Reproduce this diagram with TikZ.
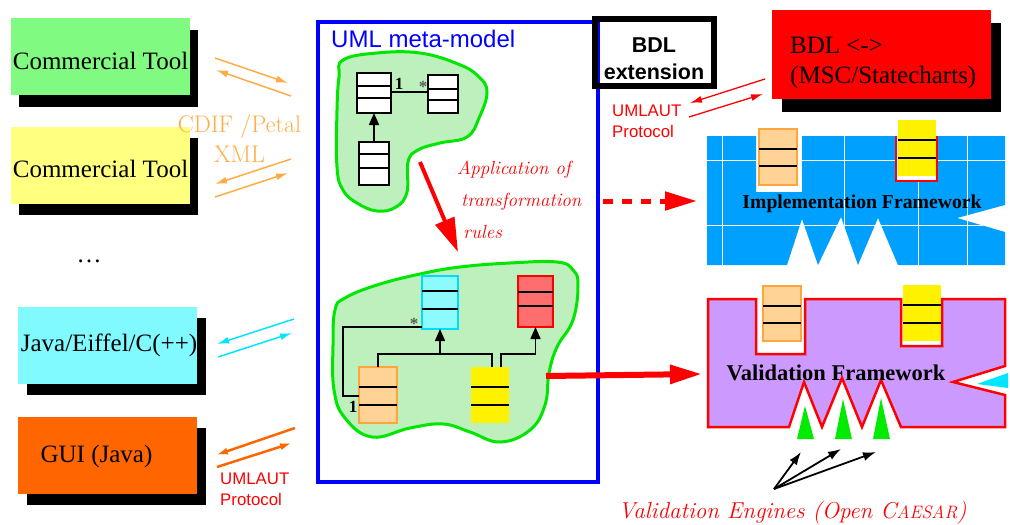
\documentclass[tikz,border=0pt]{standalone}
\usepackage{fontspec}
\newfontfamily\tms{Liberation Serif}
\newfontfamily\hv{Liberation Sans}
\usetikzlibrary{arrows.meta}
\definecolor{cgreen}{RGB}{128,250,128}
\definecolor{cyellow}{RGB}{255,255,128}
\definecolor{ccyan}{RGB}{128,250,255}
\definecolor{corange}{RGB}{255,102,0}
\definecolor{lorange}{RGB}{255,172,70}
\definecolor{blobfill}{RGB}{190,240,190}
\definecolor{blobline}{RGB}{0,230,0}
\definecolor{implblue}{RGB}{0,160,255}
\definecolor{valpurple}{RGB}{204,153,255}
\definecolor{clsorange}{RGB}{255,210,150}
\definecolor{clsorangeline}{RGB}{255,165,60}
\definecolor{clscyan}{RGB}{140,250,255}
\definecolor{clscyanline}{RGB}{0,220,255}
\definecolor{clsred}{RGB}{255,110,110}
\definecolor{arrcyan}{RGB}{0,230,255}
\definecolor{engreen}{RGB}{0,235,0}
\definecolor{starGray}{RGB}{90,90,90}
\tikzset{
  toolbox/.style={draw=none, minimum width=179pt, minimum height=77pt, inner sep=0pt, outer sep=0pt},
  shadowbox/.style={fill=black, draw=none, minimum width=179pt, minimum height=77pt, inner sep=0pt, outer sep=0pt},
  tooltext/.style={font=\tms\fontsize{25}{30}\selectfont, inner sep=0pt},
  cls/.style 2 args={draw=black, line width=1.6pt, fill=white, inner sep=0pt, outer sep=0pt, minimum width=#1, minimum height=#2},
  comp/.style={draw=black, line width=1.6pt},
  assoc/.style={draw=black, line width=1.6pt},
  gen/.style={draw=black, line width=1.6pt, -{Triangle[length=12pt,width=10pt]}},
  blob/.style={draw=blobline, line width=3pt, fill=blobfill},
  xfer/.style={line width=1.5pt, -{Latex[length=12pt,width=7pt]}},
  protolabel/.style={text=red, font=\hv\fontsize{16.8}{21}\selectfont, align=left, inner sep=0pt, anchor=west},
  mult/.style={font=\tms\bfseries\fontsize{17}{20}\selectfont, inner sep=0pt},
  multstar/.style={font=\tms\bfseries\fontsize{17}{20}\selectfont, inner sep=0pt, text=starGray},
  frametext/.style={font=\tms\bfseries, inner sep=0pt},
  engarrow/.style={draw=black, line width=1.8pt, -{Latex[length=13pt,width=9pt]}},
}
\begin{document}
\begin{tikzpicture}[x=1pt,y=-1pt]
\useasboundingbox (0,0) rectangle (1010,525);

% ---------- left tools ----------
\node[shadowbox] (sh1) at (108.5,68) {};
\node[toolbox, fill=cgreen] (tool1) at (100.5,56.5) {};
\node[tooltext] (tool1txt) at (100.5,60.5) {Commercial Tool};

\node[shadowbox] (sh2) at (108.5,176) {};
\node[toolbox, fill=cyellow] (tool2) at (100.5,165) {};
\node[tooltext] (tool2txt) at (100.5,168.5) {Commercial Tool};

\node[tooltext, anchor=base] (dots) at (89,262) {\dots};

\node[shadowbox] (sh3) at (116,356.5) {};
\node[toolbox, fill=ccyan] (tool3) at (107.5,345) {};
\node[tooltext] (tool3txt) at (109,345) {Java/Eiffel/C(++)};

\node[shadowbox] (sh4) at (116,466.5) {};
\node[toolbox, fill=corange] (tool4) at (107.5,455) {};
\node[tooltext] (tool4txt) at (96.5,456) {GUI (Java)};

% ---------- exchange arrows ----------
\coordinate (p1s) at (215,58);  \coordinate (p1e) at (288,83);
\coordinate (p2s) at (291,96);  \coordinate (p2e) at (216,70);
\coordinate (p3s) at (291,159); \coordinate (p3e) at (215,184);
\coordinate (p4s) at (215,197); \coordinate (p4e) at (288,173);
\coordinate (p5s) at (294,319); \coordinate (p5e) at (217,344);
\coordinate (p6s) at (218,357); \coordinate (p6e) at (292,333);
\coordinate (p7s) at (295,428); \coordinate (p7e) at (216,455);
\coordinate (p8s) at (217,467); \coordinate (p8e) at (292,443);
\draw[xfer, lorange] (p1s) -- (p1e);
\draw[xfer, lorange] (p2s) -- (p2e);
\draw[xfer, lorange] (p3s) -- (p3e);
\draw[xfer, lorange] (p4s) -- (p4e);
\draw[xfer, arrcyan] (p5s) -- (p5e);
\draw[xfer, arrcyan] (p6s) -- (p6e);
\draw[xfer, corange, line width=2.5pt] (p7s) -- (p7e);
\draw[xfer, corange, line width=2.5pt] (p8s) -- (p8e);

\node[font=\fontsize{24}{30}\selectfont, text=lorange, align=center, inner sep=0pt] (cdif) at (239.5,139) {CDIF /Petal\\XML};
\node[protolabel] (proto1) at (220,489.5) {UMLAUT\\Protocol};

% ---------- UML meta-model box + BDL extension ----------
\fill[white] (594.5,18.5) rectangle (713.5,85.5);
\node[draw=blue, line width=4pt, minimum width=280pt, minimum height=460pt, inner sep=0pt] (meta) at (458,252) {};
\node[draw=black, line width=6pt, minimum width=119pt, minimum height=67pt, inner sep=0pt] (bdl) at (654,52) {};
\node[font=\hv\bfseries\fontsize{21.5}{27}\selectfont, align=center, inner sep=0pt] (bdltxt) at (654,59) {BDL\\extension};
\node[text=blue, font=\hv\fontsize{24}{28}\selectfont, anchor=west, inner sep=0pt] (metatitle) at (331,39) {UML meta-model};

% top blob
\path[blob] plot[smooth cycle, tension=0.7] coordinates {(343,60) (377,53) (420,53) (458,64) (478,76) (487,92) (479,118) (467,137) (440,143) (418,150) (408,162) (407,192) (396,207) (377,211) (357,203) (343,190) (337,167) (337,110) (339,77)};
\node[cls={34pt}{40pt}] (cA) at (374,93) {};
\draw[comp] (cA.west |- 0,86) -- (cA.east |- 0,86);
\draw[comp] (cA.west |- 0,98) -- (cA.east |- 0,98);
\node[cls={30pt}{38pt}] (cB) at (443,94) {};
\draw[comp] (cB.west |- 0,89) -- (cB.east |- 0,89);
\draw[comp] (cB.west |- 0,100) -- (cB.east |- 0,100);
\node[cls={30pt}{43pt}] (cC) at (374,163.5) {};
\draw[comp] (cC.west |- 0,154) -- (cC.east |- 0,154);
\draw[comp] (cC.west |- 0,168) -- (cC.east |- 0,168);
\draw[assoc] (cA.east |- 0,92) -- (cB.west |- 0,92);
\draw[gen] (cC.north) -- (cA.south);
\node[mult] (m1) at (399,84) {1};
\node[multstar] (m2) at (423,87) {*};

% transformation arrow
\coordinate (tr1) at (420,162);
\coordinate (tr2) at (458,252);
\draw[red, line width=4pt, -{Triangle[length=34pt,width=20pt]}] (tr1) -- (tr2);
\node[text=red, font=\itshape\fontsize{19}{32}\selectfont, align=left, anchor=north west, inner sep=0pt] (apptxt) at (457,161) {Application of\\\hspace*{4pt}transformation\\\hspace*{6pt}rules};

% bottom blob
\path[blob] plot[smooth cycle, tension=0.7] coordinates {(335,310) (345,298) (377,285) (420,274) (460,267) (510,263) (557,262) (573,270) (578,285) (573,320) (557,347) (549,373) (545,405) (530,430) (500,442) (470,432) (443,424) (410,428) (372,437) (345,418) (334,390) (333,345)};
\node[cls={36pt}{53pt}, fill=clscyan, draw=clscyanline] (cD) at (440,302.5) {};
\draw[comp] (cD.west |- 0,291) -- (cD.east |- 0,291);
\draw[comp] (cD.west |- 0,309) -- (cD.east |- 0,309);
\node[cls={35pt}{51pt}, fill=clsred, draw=red] (cE) at (535.5,301.5) {};
\draw[comp] (cE.west |- 0,292) -- (cE.east |- 0,292);
\draw[comp] (cE.west |- 0,306) -- (cE.east |- 0,306);
\node[cls={38pt}{56pt}, fill=clsorange, draw=clsorangeline] (cF) at (378,395) {};
\draw[comp] (cF.west |- 0,387) -- (cF.east |- 0,387);
\draw[comp] (cF.west |- 0,405) -- (cF.east |- 0,405);
\node[cls={38pt}{56pt}, fill=yellow, draw=none] (cG) at (490,395) {};
\draw[comp] (cG.west |- 0,387) -- (cG.east |- 0,387);
\draw[comp] (cG.west |- 0,405) -- (cG.east |- 0,405);
\draw[assoc] (cF.north) -- (cF.north |- 0,354) -- ([xshift=2pt]cG.north |- 0,354) -- ([xshift=2pt]cG.north);
\draw[gen] (cD.south |- 0,354) -- (cD.south);
\draw[gen] ([xshift=11pt]cG.north) -- ([xshift=11pt]cG.north |- 0,354) -| (cE.south);
\draw[assoc] (cF.west |- 0,396) -- (343,396) -- (343,327) -- (cD.west |- 0,327);
\node[multstar] (m3) at (414,324) {*};
\node[mult] (m4) at (353,407) {1};

% ---------- BDL <-> box ----------
\node[shadowbox, minimum width=219pt, minimum height=89pt] (shb) at (891.5,67.5) {};
\node[toolbox, fill=red, minimum width=219pt, minimum height=89pt] (bdlbox) at (881.5,54.5) {};
\node[tooltext, align=left, anchor=west] (bdlboxtxt) at (790,63) {BDL <->\\(MSC/Statecharts)};
\coordinate (r1s) at (765,79);  \coordinate (r1e) at (690,103);
\coordinate (r2s) at (689,117); \coordinate (r2e) at (763,94);
\draw[xfer, red, line width=1.3pt] (r1s) -- (r1e);
\draw[xfer, red, line width=1.3pt] (r2s) -- (r2e);
\node[protolabel] (proto2) at (612,121.5) {UMLAUT\\Protocol};

% dashed arrow to implementation
\coordinate (d1) at (603,201);
\coordinate (d2) at (697,201);
\draw[red, line width=5pt, dash pattern=on 10pt off 9pt, -{Triangle[length=32pt,width=18pt]}] (d1) -- (d2);

% ---------- Implementation framework ----------
\fill[implblue] (707,136) -- (756,136) -- (756,192) -- (802,192) -- (802,136) -- (896,136) -- (896,181) -- (937,181) -- (937,136) -- (1005,136) -- (1005,205) -- (957,218) -- (1005,232) -- (1005,265) -- (898,265) -- (878,218) -- (858,265) -- (841,217) -- (818,265) -- (802,219) -- (787,265) -- (707,265) -- cycle;
\begin{scope}
\clip (707,136) -- (756,136) -- (756,192) -- (802,192) -- (802,136) -- (896,136) -- (896,181) -- (937,181) -- (937,136) -- (1005,136) -- (1005,205) -- (957,218) -- (1005,232) -- (1005,265) -- (898,265) -- (878,218) -- (858,265) -- (841,217) -- (818,265) -- (802,219) -- (787,265) -- (707,265) -- cycle;
\draw[white, line width=1pt] (722,136) -- (722,265) (844,136) -- (844,265) (918,136) -- (918,265) (967,136) -- (967,265) (707,160) -- (1005,160) (707,225) -- (1005,225);
\end{scope}
\draw[red, line width=2pt] (896,136) -- (896,181) -- (937,181) -- (937,136);
\node[cls={38pt}{56pt}, fill=clsorange, draw=clsorangeline] (cH) at (778,157) {};
\draw[comp] (cH.west |- 0,149) -- (cH.east |- 0,149);
\draw[comp] (cH.west |- 0,166) -- (cH.east |- 0,166);
\node[cls={38pt}{56pt}, fill=yellow, draw=none] (cI) at (917,148) {};
\draw[comp] (cI.west |- 0,140) -- (cI.east |- 0,140);
\draw[comp] (cI.west |- 0,158) -- (cI.east |- 0,158);
\node[frametext, font=\tms\bfseries\fontsize{19.7}{24}\selectfont] (impltxt) at (862,204) {Implementation Framework};

% ---------- Validation framework ----------
\coordinate (v1) at (546,376);
\coordinate (v2) at (702,374);
\draw[red, line width=6pt, -{Triangle[length=32pt,width=18pt]}] (v1) -- (v2);
\filldraw[fill=valpurple, draw=red, line width=2.5pt, line join=miter] (708,299) -- (756,299) -- (756,354) -- (805,354) -- (805,299) -- (901,299) -- (901,346) -- (942,346) -- (942,299) -- (1005,299) -- (1005,366) -- (953,382) -- (1005,395) -- (1005,427) -- (901,427) -- (881,380) -- (862,427) -- (842,378) -- (822,427) -- (804,382) -- (789,427) -- (708,427) -- cycle;
\fill[arrcyan] (977,384) -- (1008,373) -- (1008,388) -- cycle;
\fill[engreen] (797,439) -- (805,406) -- (814,439) -- cycle;
\fill[engreen] (835,439) -- (843,399) -- (852,439) -- cycle;
\fill[engreen] (873,439) -- (881,398) -- (890,439) -- cycle;
\node[cls={38pt}{55pt}, fill=clsorange, draw=clsorangeline] (cJ) at (782,313.5) {};
\draw[comp] (cJ.west |- 0,306) -- (cJ.east |- 0,306);
\draw[comp] (cJ.west |- 0,323) -- (cJ.east |- 0,323);
\node[cls={38pt}{56pt}, fill=yellow, draw=none] (cK) at (922,313) {};
\draw[comp] (cK.west |- 0,305) -- (cK.east |- 0,305);
\draw[comp] (cK.west |- 0,323) -- (cK.east |- 0,323);
\node[frametext, font=\tms\bfseries\fontsize{22.5}{27}\selectfont] (valtxt) at (836,373) {Validation Framework};

% ---------- validation engines ----------
\coordinate (eng) at (774,489);
\coordinate (e1) at (801,452);
\coordinate (e2) at (841,449);
\coordinate (e3) at (876,452);
\draw[engarrow] (eng) -- (e1);
\draw[engarrow] (eng) -- (e2);
\draw[engarrow] (eng) -- (e3);
\node[text=red, font=\itshape\fontsize{23}{28}\selectfont, anchor=base, inner sep=0pt] (engtxt) at (792.5,518) {Validation Engines (Open C{\fontsize{18}{20}\selectfont AESAR})};
\end{tikzpicture}
\end{document}
